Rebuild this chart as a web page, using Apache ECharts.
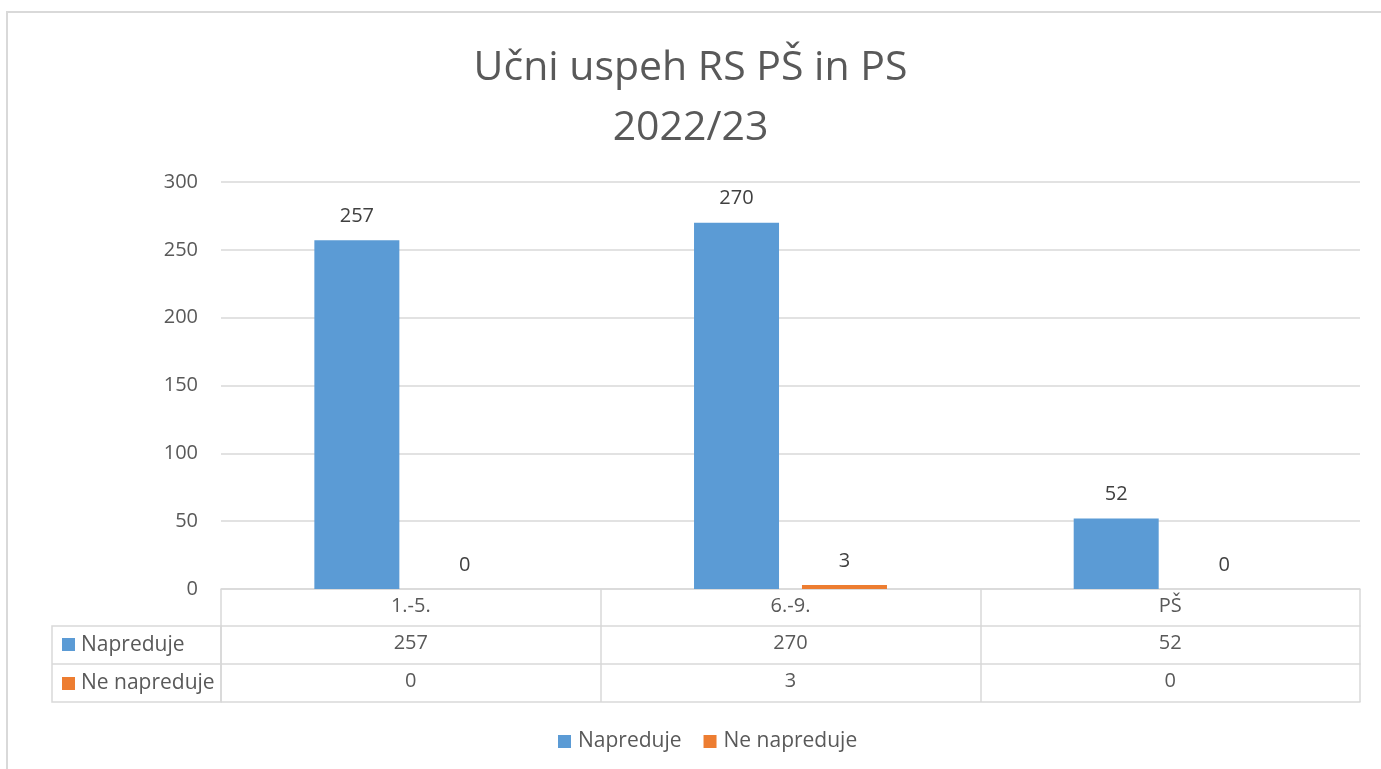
<!DOCTYPE html>
<html>
<head>
<meta charset="utf-8">
<script src="https://cdn.jsdelivr.net/npm/echarts@6/dist/echarts.min.js"></script>
<style>
  html, body { margin: 0; padding: 0; background: #fff; }
  #main { width: 1381px; height: 769px; }
</style>
</head>
<body>
<div id="main"></div>
<script>
// podatki
var kategorije = ['1.-5.', '6.-9.', 'PŠ'];
var napreduje = [257, 270, 52];
var neNapreduje = [0, 3, 0];
var imena = ['Napreduje', 'Ne napreduje'];
var barve = ['#5B9BD5', '#ED7D31'];

var pisava = '"Open Sans", "Noto Sans", sans-serif';
var siva = '#595959';
var crta = '#d9d9d9';
var velikost = 20;

var myChart = echarts.init(document.getElementById('main'));

// vrstica tabele pod osjo (vrednosti kot oznake osi)
function vrsticaTabele(podatki, odmik, oznake) {
	return {
		type: 'category',
		gridIndex: 0,
		position: 'bottom',
		offset: odmik,
		data: podatki.map(String),
		axisLine: { show: true, lineStyle: { color: crta, width: 1.5 } },
		axisTick: { show: false },
		axisLabel: { show: oznake, color: siva, fontSize: velikost, fontFamily: pisava, margin: 7 }
	};
}

option = {
	title: {
		text: 'Učni uspeh RS PŠ in PS\n2022/23',
		left: 'center',
		top: 33,
		textStyle: { color: siva, fontSize: 41, fontWeight: 'normal', fontFamily: pisava, lineHeight: 60 }
	},
	legend: {
		bottom: 12,
		left: 553,
		itemWidth: 13,
		itemHeight: 13,
		itemGap: 22,
		icon: 'rect',
		textStyle: { color: siva, fontSize: 21, fontFamily: pisava, padding: [0, 0, 0, 2] },
		data: imena
	},
	grid: { left: 221, right: 21, top: 182, bottom: 180 },
	xAxis: [
		{
			type: 'category',
			data: kategorije,
			axisLine: { show: true, lineStyle: { color: crta, width: 1.5 } },
			axisTick: { show: true, length: 113, lineStyle: { color: crta, width: 1.5 } },
			axisLabel: { color: siva, fontSize: velikost, fontFamily: pisava, margin: 7 }
		},
		vrsticaTabele(napreduje, 37, true),
		vrsticaTabele(neNapreduje, 75, true),
		vrsticaTabele(['', '', ''], 113, false)
	],
	yAxis: {
		type: 'value',
		min: 0,
		max: 300,
		interval: 50,
		axisLine: { show: false },
		axisTick: { show: false },
		axisLabel: { color: siva, fontSize: velikost, fontFamily: pisava, margin: 23 },
		splitLine: { lineStyle: { color: crta, width: 1.5 } }
	},
	series: [
		{
			name: imena[0],
			type: 'bar',
			data: napreduje,
			barWidth: 85,
			barGap: '27%',
			itemStyle: { color: barve[0] },
			label: { show: true, position: 'top', distance: 14, color: '#404040', fontSize: velikost, fontFamily: pisava }
		},
		{
			name: imena[1],
			type: 'bar',
			data: neNapreduje,
			barWidth: 85,
			itemStyle: { color: barve[1] },
			label: { show: true, position: 'top', distance: 14, color: '#404040', fontSize: velikost, fontFamily: pisava }
		}
	],
	graphic: [
		// okvir grafa
		{ type: 'rect', shape: { x: 7, y: 12, width: 1400, height: 800 }, style: { fill: 'none', stroke: crta, lineWidth: 2 }, silent: true },
		// levi stolpec tabele
		{ type: 'rect', shape: { x: 52, y: 626, width: 169, height: 76 }, style: { fill: 'none', stroke: crta, lineWidth: 1.5 }, silent: true },
		{ type: 'line', shape: { x1: 52, y1: 664, x2: 221, y2: 664 }, style: { stroke: crta, lineWidth: 1.5 }, silent: true },
		{ type: 'rect', shape: { x: 62, y: 638, width: 13, height: 13 }, style: { fill: barve[0] }, silent: true },
		{ type: 'text', x: 81, y: 645, style: { text: imena[0], fill: siva, font: '21px ' + pisava, verticalAlign: 'middle' }, silent: true },
		{ type: 'rect', shape: { x: 62, y: 677, width: 13, height: 13 }, style: { fill: barve[1] }, silent: true },
		{ type: 'text', x: 81, y: 683, style: { text: imena[1], fill: siva, font: '21px ' + pisava, verticalAlign: 'middle' }, silent: true }
	]
};

myChart.setOption(option, true);
</script>
</body>
</html>
